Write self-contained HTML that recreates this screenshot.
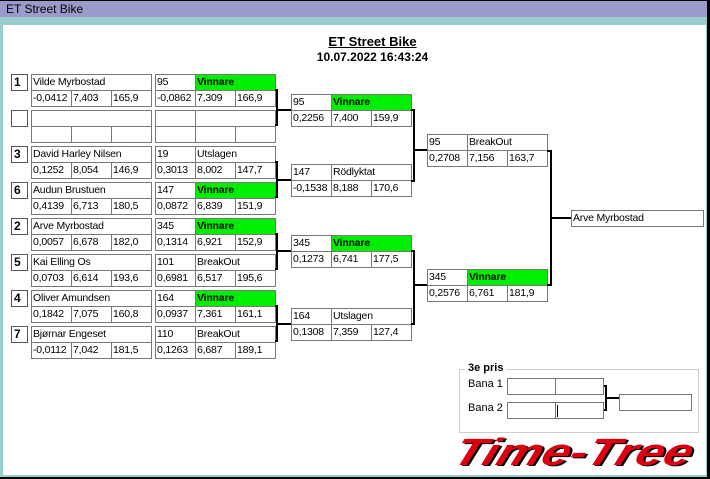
<!DOCTYPE html>
<html><head><meta charset="utf-8"><style>
*{margin:0;padding:0}
body{width:710px;height:479px;position:relative;overflow:hidden;background:#fff;font-family:"Liberation Sans",sans-serif;font-size:11px;color:#000}
.c{position:absolute;box-sizing:border-box;border:1px solid #777;height:17px;width:41px;line-height:15px;padding-left:1px;white-space:nowrap;overflow:hidden;background:#fff;font-size:10.5px;letter-spacing:-0.2px}
.w{width:121px}.m{width:81px}
.g{background:#00ee00;font-weight:bold}
.s{position:absolute;box-sizing:border-box;border:1px solid #555;width:17px;height:17px;font-weight:bold;font-size:12px;line-height:15px;padding-left:2px}
.l{position:absolute;background:#000}
</style></head><body>
<div style="position:absolute;left:0;top:0;width:710px;height:479px;background:#000"></div>
<div style="position:absolute;left:0;top:1px;width:707px;height:476px;background:#99cccc"></div>
<div style="position:absolute;left:0;top:1px;width:707px;height:16px;background:#9b9bcb"></div>
<div style="position:absolute;left:6px;top:2px;font-size:12px">ET Street Bike</div>
<div style="position:absolute;left:3px;top:25px;width:703px;height:450px;background:#fff"></div>
<div style="position:absolute;left:0;top:34px;width:745px;text-align:center;font-weight:bold;font-size:13px;text-decoration:underline">ET Street Bike</div>
<div style="position:absolute;left:0;top:50px;width:745px;text-align:center;font-weight:bold;font-size:12px">10.07.2022 16:43:24</div>

<div class="s" style="left:11px;top:74px">1</div>
<div class="c w" style="left:31px;top:74px">Vilde Myrbostad</div>
<div class="c" style="left:31px;top:90px">-0,0412</div><div class="c" style="left:71px;top:90px">7,403</div><div class="c" style="left:111px;top:90px">165,9</div>
<div class="c" style="left:155px;top:74px">95</div><div class="c m g" style="left:195px;top:74px">Vinnare</div>
<div class="c" style="left:155px;top:90px">-0,0862</div><div class="c" style="left:195px;top:90px">7,309</div><div class="c" style="left:235px;top:90px">166,9</div>

<div class="s" style="left:11px;top:110px"></div>
<div class="c w" style="left:31px;top:110px"></div>
<div class="c" style="left:31px;top:126px"></div><div class="c" style="left:71px;top:126px"></div><div class="c" style="left:111px;top:126px"></div>
<div class="c" style="left:155px;top:110px"></div><div class="c m" style="left:195px;top:110px"></div>
<div class="c" style="left:155px;top:126px"></div><div class="c" style="left:195px;top:126px"></div><div class="c" style="left:235px;top:126px"></div>

<div class="s" style="left:11px;top:146px">3</div>
<div class="c w" style="left:31px;top:146px">David Harley Nilsen</div>
<div class="c" style="left:31px;top:162px">0,1252</div><div class="c" style="left:71px;top:162px">8,054</div><div class="c" style="left:111px;top:162px">146,9</div>
<div class="c" style="left:155px;top:146px">19</div><div class="c m" style="left:195px;top:146px">Utslagen</div>
<div class="c" style="left:155px;top:162px">0,3013</div><div class="c" style="left:195px;top:162px">8,002</div><div class="c" style="left:235px;top:162px">147,7</div>

<div class="s" style="left:11px;top:182px">6</div>
<div class="c w" style="left:31px;top:182px">Audun Brustuen</div>
<div class="c" style="left:31px;top:198px">0,4139</div><div class="c" style="left:71px;top:198px">6,713</div><div class="c" style="left:111px;top:198px">180,5</div>
<div class="c" style="left:155px;top:182px">147</div><div class="c m g" style="left:195px;top:182px">Vinnare</div>
<div class="c" style="left:155px;top:198px">0,0872</div><div class="c" style="left:195px;top:198px">6,839</div><div class="c" style="left:235px;top:198px">151,9</div>

<div class="s" style="left:11px;top:218px">2</div>
<div class="c w" style="left:31px;top:218px">Arve Myrbostad</div>
<div class="c" style="left:31px;top:234px">0,0057</div><div class="c" style="left:71px;top:234px">6,678</div><div class="c" style="left:111px;top:234px">182,0</div>
<div class="c" style="left:155px;top:218px">345</div><div class="c m g" style="left:195px;top:218px">Vinnare</div>
<div class="c" style="left:155px;top:234px">0,1314</div><div class="c" style="left:195px;top:234px">6,921</div><div class="c" style="left:235px;top:234px">152,9</div>

<div class="s" style="left:11px;top:254px">5</div>
<div class="c w" style="left:31px;top:254px">Kai Elling Os</div>
<div class="c" style="left:31px;top:270px">0,0703</div><div class="c" style="left:71px;top:270px">6,614</div><div class="c" style="left:111px;top:270px">193,6</div>
<div class="c" style="left:155px;top:254px">101</div><div class="c m" style="left:195px;top:254px">BreakOut</div>
<div class="c" style="left:155px;top:270px">0,6981</div><div class="c" style="left:195px;top:270px">6,517</div><div class="c" style="left:235px;top:270px">195,6</div>

<div class="s" style="left:11px;top:290px">4</div>
<div class="c w" style="left:31px;top:290px">Oliver Amundsen</div>
<div class="c" style="left:31px;top:306px">0,1842</div><div class="c" style="left:71px;top:306px">7,075</div><div class="c" style="left:111px;top:306px">160,8</div>
<div class="c" style="left:155px;top:290px">164</div><div class="c m g" style="left:195px;top:290px">Vinnare</div>
<div class="c" style="left:155px;top:306px">0,0937</div><div class="c" style="left:195px;top:306px">7,361</div><div class="c" style="left:235px;top:306px">161,1</div>

<div class="s" style="left:11px;top:326px">7</div>
<div class="c w" style="left:31px;top:326px">Bjørnar Engeset</div>
<div class="c" style="left:31px;top:342px">-0,0112</div><div class="c" style="left:71px;top:342px">7,042</div><div class="c" style="left:111px;top:342px">181,5</div>
<div class="c" style="left:155px;top:326px">110</div><div class="c m" style="left:195px;top:326px">BreakOut</div>
<div class="c" style="left:155px;top:342px">0,1263</div><div class="c" style="left:195px;top:342px">6,687</div><div class="c" style="left:235px;top:342px">189,1</div>

<div class="l" style="left:275px;top:89px;width:3px;height:2px"></div><div class="l" style="left:276px;top:89px;width:2px;height:37px"></div><div class="l" style="left:275px;top:124px;width:3px;height:2px"></div><div class="l" style="left:278px;top:109px;width:13px;height:2px"></div>
<div class="l" style="left:275px;top:161px;width:3px;height:2px"></div><div class="l" style="left:276px;top:161px;width:2px;height:37px"></div><div class="l" style="left:275px;top:196px;width:3px;height:2px"></div><div class="l" style="left:278px;top:179px;width:13px;height:2px"></div>
<div class="l" style="left:275px;top:233px;width:3px;height:2px"></div><div class="l" style="left:276px;top:233px;width:2px;height:37px"></div><div class="l" style="left:275px;top:268px;width:3px;height:2px"></div><div class="l" style="left:278px;top:250px;width:13px;height:2px"></div>
<div class="l" style="left:275px;top:305px;width:3px;height:2px"></div><div class="l" style="left:276px;top:305px;width:2px;height:37px"></div><div class="l" style="left:275px;top:340px;width:3px;height:2px"></div><div class="l" style="left:278px;top:323px;width:13px;height:2px"></div>

<div class="c" style="left:291px;top:94px">95</div><div class="c m g" style="left:331px;top:94px">Vinnare</div>
<div class="c" style="left:291px;top:110px">0,2256</div><div class="c" style="left:331px;top:110px">7,400</div><div class="c" style="left:371px;top:110px">159,9</div>
<div class="c" style="left:291px;top:164px">147</div><div class="c m" style="left:331px;top:164px">Rödlyktat</div>
<div class="c" style="left:291px;top:180px">-0,1538</div><div class="c" style="left:331px;top:180px">8,188</div><div class="c" style="left:371px;top:180px">170,6</div>
<div class="c" style="left:291px;top:235px">345</div><div class="c m g" style="left:331px;top:235px">Vinnare</div>
<div class="c" style="left:291px;top:251px">0,1273</div><div class="c" style="left:331px;top:251px">6,741</div><div class="c" style="left:371px;top:251px">177,5</div>
<div class="c" style="left:291px;top:308px">164</div><div class="c m" style="left:331px;top:308px">Utslagen</div>
<div class="c" style="left:291px;top:324px">0,1308</div><div class="c" style="left:331px;top:324px">7,359</div><div class="c" style="left:371px;top:324px">127,4</div>

<div class="l" style="left:411px;top:109px;width:4px;height:2px"></div><div class="l" style="left:413px;top:109px;width:2px;height:73px"></div><div class="l" style="left:411px;top:180px;width:4px;height:2px"></div><div class="l" style="left:415px;top:149px;width:12px;height:2px"></div>
<div class="l" style="left:411px;top:250px;width:4px;height:2px"></div><div class="l" style="left:413px;top:250px;width:2px;height:75px"></div><div class="l" style="left:411px;top:323px;width:4px;height:2px"></div><div class="l" style="left:415px;top:284px;width:12px;height:2px"></div>

<div class="c" style="left:427px;top:134px">95</div><div class="c m" style="left:467px;top:134px">BreakOut</div>
<div class="c" style="left:427px;top:150px">0,2708</div><div class="c" style="left:467px;top:150px">7,156</div><div class="c" style="left:507px;top:150px">163,7</div>
<div class="c" style="left:427px;top:269px">345</div><div class="c m g" style="left:467px;top:269px">Vinnare</div>
<div class="c" style="left:427px;top:285px">0,2576</div><div class="c" style="left:467px;top:285px">6,761</div><div class="c" style="left:507px;top:285px">181,9</div>

<div class="l" style="left:547px;top:150px;width:5px;height:2px"></div><div class="l" style="left:550px;top:150px;width:2px;height:136px"></div><div class="l" style="left:547px;top:284px;width:5px;height:2px"></div><div class="l" style="left:552px;top:217px;width:19px;height:2px"></div>

<div class="c" style="left:571px;top:210px;width:133px">Arve Myrbostad</div>

<div style="position:absolute;left:459px;top:369px;width:240px;height:64px;box-sizing:border-box;border:1px solid #ccc"></div>
<div style="position:absolute;left:465px;top:362px;background:#fff;padding:0 3px;font-weight:bold">3e pris</div>
<div style="position:absolute;left:468px;top:378px">Bana 1</div>
<div style="position:absolute;left:468px;top:402px">Bana 2</div>
<div class="c" style="left:507px;top:378px;width:49px"></div><div class="c" style="left:555px;top:378px;width:49px"></div>
<div class="c" style="left:507px;top:402px;width:49px"></div><div class="c" style="left:555px;top:402px;width:49px"><span style="display:inline-block;width:1px;height:12px;background:#000;margin-top:2px"></span></div>
<div class="l" style="left:604px;top:385px;width:3px;height:2px"></div><div class="l" style="left:605px;top:385px;width:2px;height:26px"></div><div class="l" style="left:604px;top:409px;width:3px;height:2px"></div><div class="l" style="left:607px;top:397px;width:12px;height:2px"></div>
<div class="c" style="left:619px;top:394px;width:73px"></div>

<div style="position:absolute;left:462px;top:433px;font-family:'Liberation Sans',sans-serif;font-weight:bold;font-style:italic;font-size:38px;color:#dd0011;transform:skewX(-20deg) scaleX(1.32);transform-origin:left top;text-shadow:2px 1px 0 #000;line-height:40px">Time-Tree</div>
</body></html>
